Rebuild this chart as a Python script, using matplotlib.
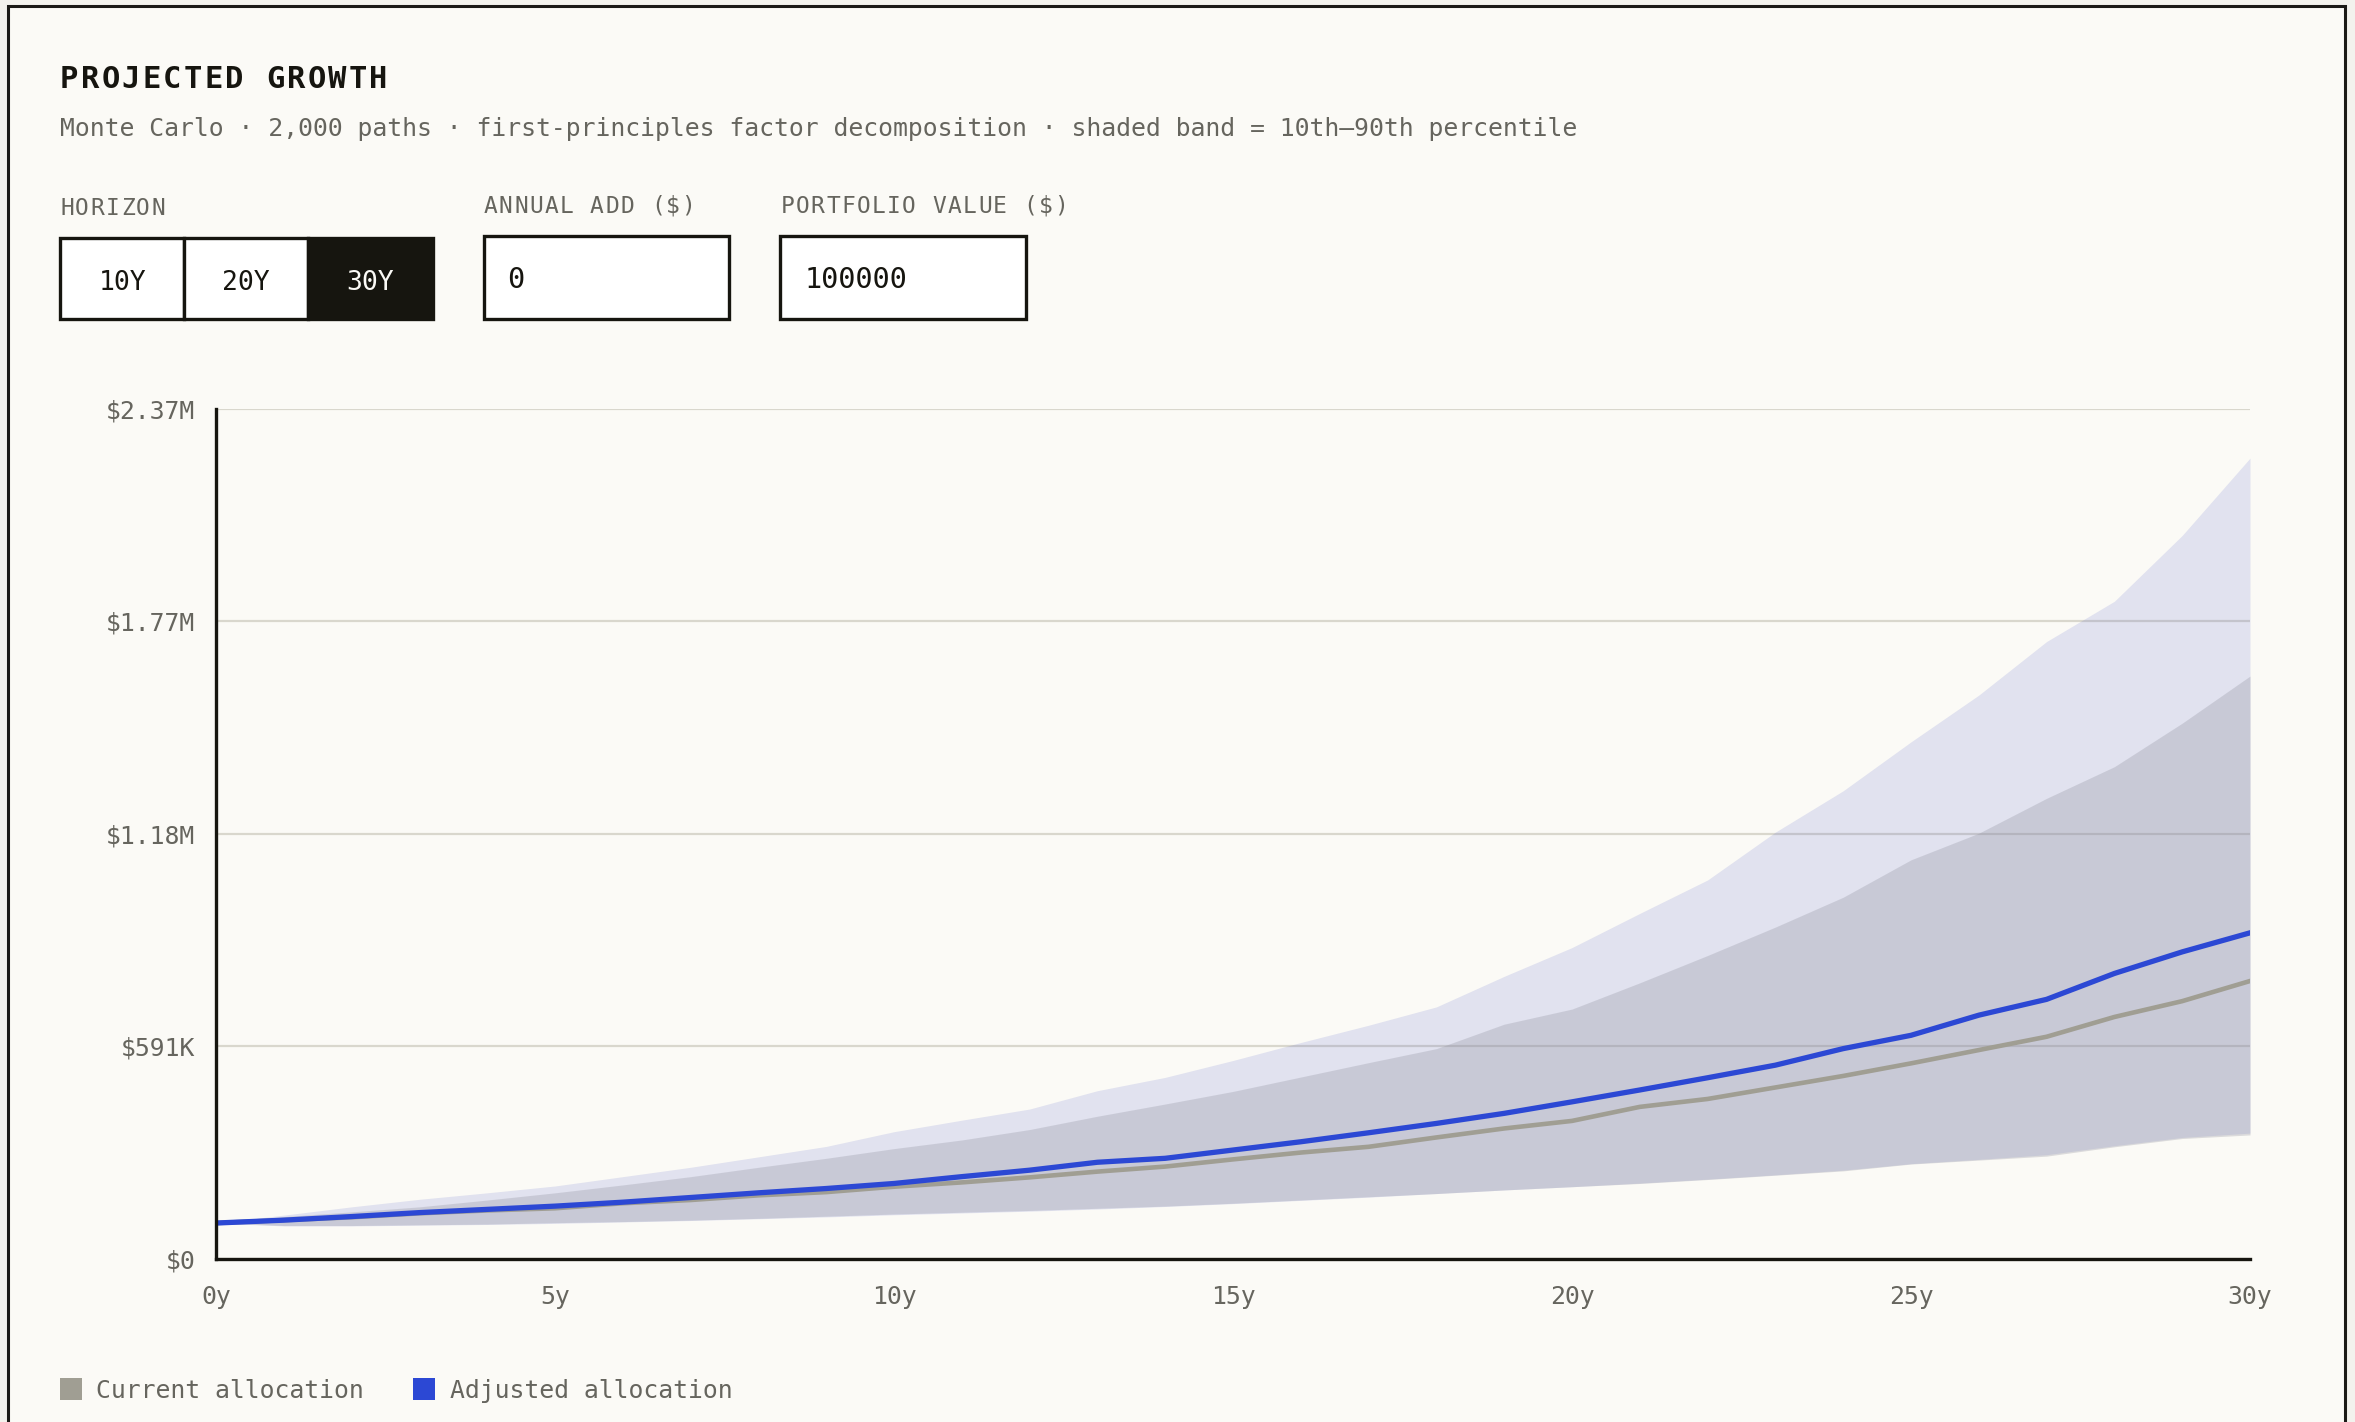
import matplotlib
matplotlib.use("Agg")
import matplotlib.pyplot as plt
from matplotlib.patches import Rectangle

W, H, DPI = 2355, 1422, 100
MONO = "DejaVu Sans Mono"
plt.rcParams["font.family"] = MONO

# --- data (thousands of $) ---
years = list(range(31))
adjusted_median = [100, 108, 118, 129, 138, 147, 158, 171, 184, 196, 210, 229, 247, 269, 280, 303,
                   326, 351, 377, 405, 437, 470, 504, 539, 585, 622, 678, 722, 794, 854, 907]
current_median = [100, 108, 116, 127, 135, 141, 155, 164, 177, 186, 201, 213, 227, 243, 257, 277,
                  296, 312, 338, 363, 384, 423, 445, 477, 509, 544, 581, 618, 673, 717, 773]
adjusted_p90 = [100, 122, 145, 166, 184, 203, 229, 255, 284, 313, 354, 386, 417, 468, 505, 552,
                602, 650, 701, 786, 866, 961, 1054, 1187, 1302, 1438, 1568, 1717, 1829, 2012, 2227]
current_p90 = [100, 118, 131, 145, 164, 184, 206, 229, 255, 280, 307, 331, 360, 397, 431, 466,
               506, 546, 585, 653, 695, 768, 844, 923, 1006, 1110, 1184, 1281, 1369, 1490, 1621]
adjusted_p10 = [100, 92, 92, 94, 96, 99, 103, 107, 112, 117, 123, 128, 133, 139, 146, 154,
                163, 172, 182, 192, 201, 211, 222, 234, 247, 265, 277, 290, 315, 338, 350]
current_p10 = [100, 93, 93, 95, 97, 101, 104, 108, 113, 119, 125, 130, 135, 141, 147, 155,
               164, 173, 182, 192, 201, 210, 221, 233, 245, 264, 275, 286, 312, 335, 345]

y_max = 2365
y_ticks = [0, 591.25, 1182.5, 1773.75, 2365]
y_tick_labels = ["$0", "$591K", "$1.18M", "$1.77M", "$2.37M"]
x_ticks = [0, 5, 10, 15, 20, 25, 30]
x_tick_labels = ["0y", "5y", "10y", "15y", "20y", "25y", "30y"]

horizon_options = ["10Y", "20Y", "30Y"]
annual_add = "0"
portfolio_value = "100000"

INK = "#16150f"
MUTED = "#66655e"
BLUE = "#2c48d4"
GRAY = "#a09e93"
PAPER = "#fbfaf6"

fig = plt.figure(figsize=(W / DPI, H / DPI), dpi=DPI, facecolor="#f3f2ed")

# background layer in pixel coordinates
bg = fig.add_axes([0, 0, 1, 1])
bg.set_xlim(0, W)
bg.set_ylim(H, 0)
bg.axis("off")
bg.add_patch(Rectangle((8, 6), 2337, 1500, facecolor=PAPER, edgecolor="#1b1a16", lw=2.2))


def spaced(x, y, s, size, track, **kw):
    # monospace text with letter spacing, y is baseline in px
    pitch = 0.602 * size * DPI / 72 + track
    half = 0.301 * size * DPI / 72
    for i, ch in enumerate(s):
        if ch != " ":
            bg.text(x + i * pitch + half, y, ch, ha="center", va="baseline",
                    fontsize=size, family=MONO, **kw)


spaced(60, 88.5, "PROJECTED GROWTH", 22, 2.2, color=INK, fontweight="bold")
bg.text(60, 136, "Monte Carlo · 2,000 paths · first-principles factor decomposition · "
        "shaded band = 10th–90th percentile", fontsize=17.8, color=MUTED,
        ha="left", va="baseline")

spaced(60, 215, "HORIZON", 16.5, 1.4, color=MUTED)
spaced(483.6, 212.7, "ANNUAL ADD ($)", 16.5, 1.4, color=MUTED)
spaced(780.4, 212.7, "PORTFOLIO VALUE ($)", 16.5, 1.4, color=MUTED)

# horizon segmented control
seg_x = [60, 184.4, 307.6, 433]
for i, lab in enumerate(horizon_options):
    active = lab == "30Y"
    bg.add_patch(Rectangle((seg_x[i], 238), seg_x[i + 1] - seg_x[i], 81,
                           facecolor=INK if active else "#ffffff", edgecolor=INK, lw=2.4))
    bg.text((seg_x[i] + seg_x[i + 1]) / 2, 290, lab, ha="center", va="baseline",
            fontsize=19, color=PAPER if active else INK)

# input boxes
for x0, val in [(483.6, annual_add), (780.4, portfolio_value)]:
    bg.add_patch(Rectangle((x0, 235.5), 245.5, 83.5, facecolor="#ffffff", edgecolor=INK, lw=2.4))
    bg.text(x0 + 24, 288.3, val, ha="left", va="baseline", fontsize=20.5, color=INK)

# legend
bg.add_patch(Rectangle((60, 1378), 22, 22, facecolor=GRAY, edgecolor="none"))
bg.text(95.7, 1398.3, "Current allocation", fontsize=17.8, color=MUTED, va="baseline")
bg.add_patch(Rectangle((412.5, 1378), 22, 22, facecolor=BLUE, edgecolor="none"))
bg.text(449.6, 1398.3, "Adjusted allocation", fontsize=17.8, color=MUTED, va="baseline")

# --- chart ---
left, right, top, bottom = 216, 2250, 408.5, 1259
ax = fig.add_axes([left / W, 1 - bottom / H, (right - left) / W, (bottom - top) / H])
ax.set_facecolor("none")

ax.fill_between(years, adjusted_p10, adjusted_p90, color=(78 / 255, 90 / 255, 199 / 255),
                alpha=0.15, lw=0, zorder=1)
ax.fill_between(years, current_p10, current_p90, color=(145 / 255, 146 / 255, 159 / 255),
                alpha=0.3, lw=0, zorder=1.1)
ax.plot(years, current_median, color=GRAY, lw=3.3, zorder=2, solid_joinstyle="round")
ax.plot(years, adjusted_median, color=BLUE, lw=3.8, zorder=3, solid_joinstyle="round")

ax.set_xlim(0, 30)
ax.set_ylim(0, y_max)
ax.set_yticks(y_ticks, y_tick_labels)
ax.set_xticks(x_ticks, x_tick_labels)
ax.grid(axis="y", color="#d9d7cd", lw=1.6, zorder=0.5)
ax.set_axisbelow(True)
ax.tick_params(axis="both", length=0, labelsize=17.8, labelcolor=MUTED)
ax.tick_params(axis="y", pad=15)
ax.tick_params(axis="x", pad=19)
for side in ["top", "right"]:
    ax.spines[side].set_visible(False)
for side in ["left", "bottom"]:
    ax.spines[side].set_color(INK)
    ax.spines[side].set_linewidth(2.4)
    ax.spines[side].set_zorder(4)

fig.savefig("out.png", dpi=DPI, facecolor=fig.get_facecolor())
